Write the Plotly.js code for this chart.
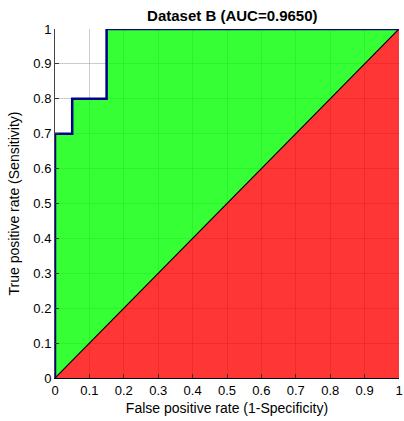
<!DOCTYPE html>
<html><head><meta charset="utf-8">
<script src="https://cdn.plot.ly/plotly-3.0.1.min.js"></script>
<style>html,body{margin:0;padding:0;background:#fff}#chart{width:404px;height:421px}</style>
</head><body><div id="chart"></div>
<script>
const fpr = [0, 0, 0.05, 0.05, 0.15, 0.15, 1];
const tpr = [0, 0.7, 0.7, 0.8, 0.8, 1, 1];
const diagX = [0, 1];
const diagY = [0, 1];
const ticks = [0, 0.1, 0.2, 0.3, 0.4, 0.5, 0.6, 0.7, 0.8, 0.9, 1];
const tickText = ['0', '0.1', '0.2', '0.3', '0.4', '0.5', '0.6', '0.7', '0.8', '0.9', '1'];
const auc = 0.9650;

const greenX = fpr.concat(diagX.slice().reverse());
const greenY = tpr.concat(diagY.slice().reverse());
const redX = [diagX[0], diagX[1], diagX[1], diagX[0]];
const redY = [diagY[0], diagY[0], diagY[1], diagY[0]];

const traces = [
  {x: greenX, y: greenY, mode: 'lines', fill: 'toself', fillcolor: 'rgba(0,255,0,0.79)', line: {width: 0}, hoverinfo: 'skip'},
  {x: redX, y: redY, mode: 'lines', fill: 'toself', fillcolor: 'rgba(255,0,0,0.79)', line: {width: 0}, hoverinfo: 'skip'},
  {x: diagX, y: diagY, mode: 'lines', line: {color: '#000', width: 1.2}},
  {x: fpr, y: tpr, mode: 'lines', line: {color: '#00008B', width: 2.5}}
];

const F = 'Liberation Sans, Arial, sans-serif';
const axisCommon = {
  range: [0, 1], tickvals: ticks, ticktext: tickText,
  ticks: 'inside', ticklen: 4, tickcolor: '#333',
  showgrid: true, gridcolor: 'rgba(110,110,110,0.35)', gridwidth: 1,
  zeroline: false, showline: true, linewidth: 1,
  ticklabeloverflow: 'allow',
  tickfont: {family: F, size: 13, color: '#000'},
  fixedrange: true
};

const layout = {
  width: 404, height: 421,
  margin: {l: 55, r: 5, t: 29, b: 43},
  paper_bgcolor: '#fff', plot_bgcolor: '#fff',
  showlegend: false,
  title: {text: '<b>Dataset B (AUC=' + auc.toFixed(4) + ')</b>', font: {family: F, size: 15, color: '#000'}, x: 0.575, xanchor: 'center', y: 0.975, yanchor: 'top'},
  xaxis: Object.assign({}, axisCommon, {linecolor: '#000',
    title: {text: 'False positive rate (1-Specificity)', font: {family: F, size: 14, color: '#000'}, standoff: 6}}),
  yaxis: Object.assign({}, axisCommon, {linecolor: '#444',
    title: {text: 'True positive rate (Sensitivity)', font: {family: F, size: 14, color: '#000'}, standoff: 10}})
};

Plotly.newPlot('chart', traces, layout, {displayModeBar: false, staticPlot: true});
</script></body></html>
